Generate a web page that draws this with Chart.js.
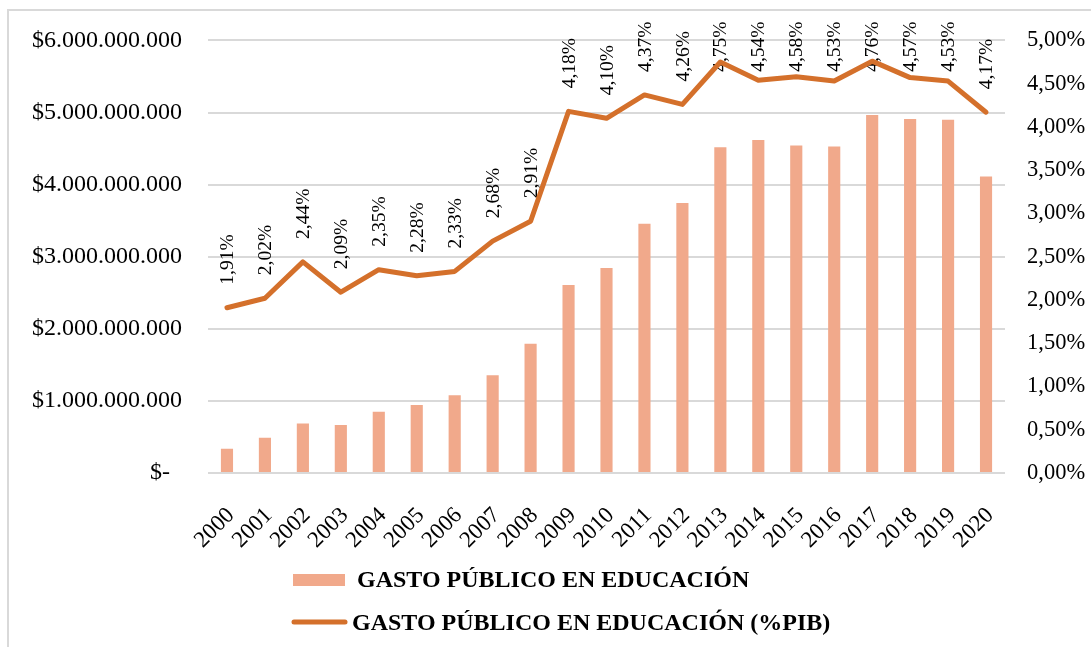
<!DOCTYPE html>
<html>
<head>
<meta charset="utf-8">
<script src="https://cdn.jsdelivr.net/npm/chart.js@4.4.1/dist/chart.umd.min.js"></script>
<style>
  html, body { margin: 0; padding: 0; background: #ffffff; }
  #wrap { width: 1091px; height: 647px; position: relative; }
  canvas { display: block; }
</style>
</head>
<body>
<div id="wrap"><canvas id="c" width="1091" height="647"></canvas></div>
<script>
// ---- DATA ----
const years = ['2000','2001','2002','2003','2004','2005','2006','2007','2008','2009','2010',
               '2011','2012','2013','2014','2015','2016','2017','2018','2019','2020'];
const gastoEducacion = [337000000, 489000000, 687000000, 665000000, 849000000, 942000000,
                        1080000000, 1357000000, 1791000000, 2608000000, 2844000000,
                        3457000000, 3744000000, 4519000000, 4619000000, 4543000000,
                        4529000000, 4967000000, 4911000000, 4898000000, 4114000000];
const gastoPIB = [1.91, 2.02, 2.44, 2.09, 2.35, 2.28, 2.33, 2.68, 2.91, 4.18, 4.10,
                  4.37, 4.26, 4.75, 4.54, 4.58, 4.53, 4.76, 4.57, 4.53, 4.17];
const leftTickLabels = ['$-  ', '$1.000.000.000', '$2.000.000.000', '$3.000.000.000',
                        '$4.000.000.000', '$5.000.000.000', '$6.000.000.000'];
const rightTickLabels = ['0,00%', '0,50%', '1,00%', '1,50%', '2,00%', '2,50%',
                         '3,00%', '3,50%', '4,00%', '4,50%', '5,00%'];
const seriesNames = ['GASTO PÚBLICO EN EDUCACIÓN', 'GASTO PÚBLICO EN EDUCACIÓN (%PIB)'];

// ---- STYLE ----
const FONT = '"Liberation Serif", "Times New Roman", serif';
const BAR_COLOR = '#F1A98B';
const LINE_COLOR = '#D4702B';
const GRID_COLOR = '#D9D9D9';

function fmtPct(v) { return v.toFixed(2).replace('.', ',') + '%'; }

const framePlugin = {
  id: 'frame',
  beforeDraw(chart) {
    const ctx = chart.ctx;
    ctx.save();
    ctx.fillStyle = '#ffffff';
    ctx.fillRect(0, 0, chart.width, chart.height);
    ctx.strokeStyle = GRID_COLOR;
    ctx.lineWidth = 2;
    ctx.beginPath();
    ctx.moveTo(8, chart.height);
    ctx.lineTo(8, 10);
    ctx.lineTo(chart.width, 10);
    ctx.stroke();
    ctx.restore();
  }
};

const pctLabelPlugin = {
  id: 'pctLabels',
  beforeDatasetsDraw(chart) {
    const meta = chart.getDatasetMeta(1);
    const ctx = chart.ctx;
    ctx.save();
    ctx.font = '19.5px ' + FONT;
    ctx.fillStyle = '#000000';
    ctx.textAlign = 'left';
    ctx.textBaseline = 'middle';
    const minTop = chart.chartArea.top - 19;
    meta.data.forEach((pt, i) => {
      const txt = fmtPct(gastoPIB[i]);
      const w = ctx.measureText(txt).width;
      let bottom = pt.y - 23;
      if (bottom - w < minTop) bottom = minTop + w;
      ctx.save();
      ctx.translate(pt.x, bottom);
      ctx.rotate(-Math.PI / 2);
      ctx.fillText(txt, 0, 1);
      ctx.restore();
    });
    ctx.restore();
  }
};

const legendPlugin = {
  id: 'customLegend',
  afterDraw(chart) {
    const ctx = chart.ctx;
    ctx.save();
    ctx.font = 'bold 24px ' + FONT;
    ctx.textAlign = 'left';
    ctx.textBaseline = 'alphabetic';
    // row 1: bar swatch
    ctx.fillStyle = BAR_COLOR;
    ctx.fillRect(293, 574, 52, 12);
    ctx.fillStyle = '#000000';
    ctx.fillText(chart.data.datasets[0].label, 357, 587);
    // row 2: line swatch
    ctx.strokeStyle = LINE_COLOR;
    ctx.lineWidth = 5;
    ctx.lineCap = 'round';
    ctx.beginPath();
    ctx.moveTo(294, 622);
    ctx.lineTo(345, 622);
    ctx.stroke();
    ctx.fillText(chart.data.datasets[1].label, 352, 630);
    ctx.restore();
  }
};

new Chart(document.getElementById('c'), {
  data: {
    labels: years,
    datasets: [
      {
        type: 'bar',
        label: seriesNames[0],
        data: gastoEducacion,
        backgroundColor: BAR_COLOR,
        borderWidth: 0,
        yAxisID: 'y',
        order: 1,
        categoryPercentage: 1.0,
        barPercentage: 0.32
      },
      {
        type: 'line',
        label: seriesNames[1],
        data: gastoPIB,
        borderColor: LINE_COLOR,
        backgroundColor: LINE_COLOR,
        borderWidth: 5,
        pointRadius: 0,
        tension: 0,
        borderCapStyle: 'round',
        borderJoinStyle: 'round',
        yAxisID: 'y1',
        order: 0
      }
    ]
  },
  options: {
    responsive: false,
    animation: false,
    layout: { padding: { top: 40, left: 0, right: 0, bottom: 0 } },
    plugins: {
      legend: { display: false },
      tooltip: { enabled: false },
      title: { display: false }
    },
    scales: {
      x: {
        type: 'category',
        offset: true,
        grid: { display: false },
        border: { display: false },
        ticks: {
          color: '#000000',
          font: { family: FONT, size: 23 },
          maxRotation: 45,
          minRotation: 45,
          padding: 21,
          labelOffset: 4,
          autoSkip: false
        },
        afterFit(scale) { scale.height = 174; }
      },
      y: {
        type: 'linear',
        position: 'left',
        min: 0,
        max: 6000000000,
        grid: { color: GRID_COLOR, lineWidth: 2, drawTicks: false },
        border: { display: false },
        ticks: {
          stepSize: 1000000000,
          color: '#000000',
          font: { family: FONT, size: 24 },
          padding: 26,
          callback: (v) => leftTickLabels[Math.round(v / 1000000000)]
        },
        afterFit(scale) { scale.width = 208; }
      },
      y1: {
        type: 'linear',
        position: 'right',
        min: 0,
        max: 5,
        grid: { display: false, drawTicks: false },
        border: { display: false },
        ticks: {
          stepSize: 0.5,
          color: '#000000',
          font: { family: FONT, size: 22.5 },
          padding: 22,
          callback: (v) => rightTickLabels[Math.round(v * 2)]
        },
        afterFit(scale) { scale.width = 86; }
      }
    }
  },
  plugins: [framePlugin, pctLabelPlugin, legendPlugin]
});
</script>
</body>
</html>
